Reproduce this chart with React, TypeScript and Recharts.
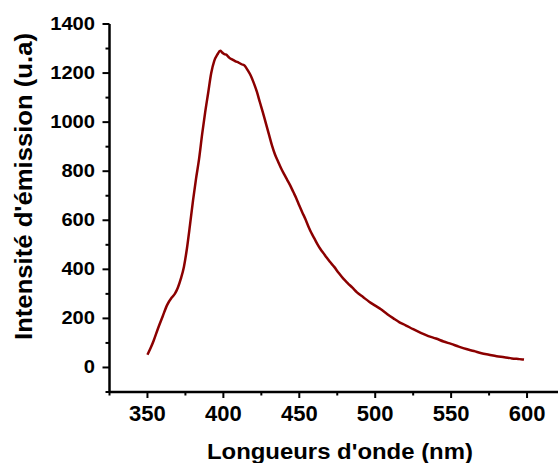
import React from 'react';
import { LineChart, Line, XAxis, YAxis } from 'recharts';

// wavelength (nm) and emission intensity (u.a)
const wavelengths = [
  350, 352, 354, 357, 360, 363, 366, 368, 370, 372, 374, 376, 378, 380, 382, 384, 386, 388, 390,
  392, 394, 396, 398, 399, 400, 401, 402, 403, 404, 406, 408, 410, 412, 414, 416, 418, 420, 422,
  424, 426, 428, 430, 432, 434, 436, 438, 440, 442, 444, 446, 448, 450, 452, 454, 456, 458, 460,
  462, 464, 466, 468, 470, 473, 476, 479, 482, 485, 488, 492, 496, 500, 504, 508, 512, 516, 520,
  525, 530, 535, 540, 545, 550, 555, 560, 565, 570, 575, 580, 585, 590, 595, 598,
];
const intensities = [
  52, 78, 108, 160, 208, 255, 285, 300, 325, 362, 410, 485, 580, 680, 770, 850, 950, 1040, 1120,
  1200, 1250, 1275, 1291, 1285, 1280, 1276, 1275, 1268, 1262, 1255, 1248, 1243, 1236, 1230, 1212,
  1190, 1160, 1125, 1082, 1040, 995, 950, 905, 868, 840, 812, 788, 765, 742, 716, 690, 660, 632,
  605, 575, 548, 525, 502, 482, 465, 448, 432, 410, 385, 362, 343, 325, 306, 287, 268, 252, 236,
  217, 200, 184, 172, 156, 141, 128, 118, 106, 96, 85, 75, 67, 58, 52, 46, 42, 37, 34, 32,
];

const xTicks = [325, 350, 375, 400, 425, 450, 475, 500, 525, 550, 575, 600, 625];
const yTicks = [-100, 0, 100, 200, 300, 400, 500, 600, 700, 800, 900, 1000, 1100, 1200, 1300, 1400];

const xTitle = 'Longueurs d\'onde (nm)';
const yTitle = 'Intensité d\'émission (u.a)';

const data = wavelengths.map((w, i) => ({ w, v: intensities[i] }));

const FONT = '"Liberation Sans", Arial, sans-serif';

const XTick = (props: any) => {
  const { x, y, payload } = props;
  const major = payload.value % 50 === 0;
  return (
    <g>
      <line x1={x} y1={y} x2={x} y2={y + (major ? 6 : 3.5)} stroke="#000" strokeWidth={2} />
      {major && payload.value <= 600 && (
        <text x={x} y={y + 28.5} textAnchor="middle" fontFamily={FONT} fontWeight="bold" fontSize={22} fill="#000">
          {payload.value}
        </text>
      )}
    </g>
  );
};

const YTick = (props: any) => {
  const { x, y, payload } = props;
  const major = payload.value % 200 === 0;
  const label = String(payload.value);
  return (
    <g>
      <line x1={x - (major ? 7 : 4)} y1={y} x2={x} y2={y} stroke="#000" strokeWidth={2} />
      {major && (
        <text
          x={x - 14.5}
          y={y + 5.8}
          textAnchor="end"
          fontFamily={FONT}
          fontWeight="bold"
          fontSize={18}
          fill="#000"
          textLength={label.length * 11.2}
          lengthAdjust="spacingAndGlyphs"
        >
          {label}
        </text>
      )}
    </g>
  );
};

const XTitle = (props: any) => {
  const { viewBox } = props;
  return (
    <text
      x={viewBox.x + viewBox.width / 2 + 2.7}
      y={viewBox.y + 67.3}
      textAnchor="middle"
      fontFamily={FONT}
      fontWeight="bold"
      fontSize={22}
      fill="#000"
      textLength={266}
      lengthAdjust="spacingAndGlyphs"
    >
      {xTitle}
    </text>
  );
};

const YTitle = (props: any) => {
  const { viewBox } = props;
  const cx = viewBox.x + 31.7;
  const cy = viewBox.y + viewBox.height / 2 - 21.5;
  return (
    <text
      x={cx}
      y={cy}
      transform={`rotate(-90, ${cx}, ${cy})`}
      textAnchor="middle"
      fontFamily={FONT}
      fontWeight="bold"
      fontSize={24}
      fill="#000"
      textLength={307}
      lengthAdjust="spacingAndGlyphs"
    >
      {yTitle}
    </text>
  );
};

export default function App() {
  return (
    <div
      style={{
        position: 'fixed',
        left: 0,
        top: 0,
        width: 558,
        height: 463,
        overflow: 'hidden',
        background: '#fff',
      }}
    >
      <LineChart width={580} height={463} data={data} margin={{ top: 24, right: 15, left: 0, bottom: 0 }}>
        <XAxis
          dataKey="w"
          type="number"
          domain={[325, 625]}
          ticks={xTicks}
          interval={0}
          tickSize={0}
          tickMargin={0}
          tickLine={false}
          tick={<XTick />}
          axisLine={{ stroke: '#000', strokeWidth: 2.5 }}
          height={71}
          label={<XTitle />}
        />
        <XAxis
          xAxisId="top"
          orientation="top"
          dataKey="w"
          type="number"
          domain={[325, 625]}
          tick={false}
          tickLine={false}
          height={0}
          axisLine={{ stroke: '#000', strokeWidth: 2.2 }}
        />
        <YAxis
          type="number"
          domain={[-100, 1400]}
          ticks={yTicks}
          interval={0}
          tickSize={0}
          tickMargin={0}
          tickLine={false}
          tick={<YTick />}
          axisLine={{ stroke: '#000', strokeWidth: 2.5 }}
          width={109.5}
          label={<YTitle />}
        />
        <YAxis
          yAxisId="right"
          orientation="right"
          type="number"
          domain={[-100, 1400]}
          tick={false}
          tickLine={false}
          width={0}
          axisLine={{ stroke: '#000', strokeWidth: 2.2 }}
        />
        <Line
          type="monotone"
          dataKey="v"
          stroke="#8B0000"
          strokeWidth={2.5}
          dot={false}
          isAnimationActive={false}
        />
      </LineChart>
    </div>
  );
}
